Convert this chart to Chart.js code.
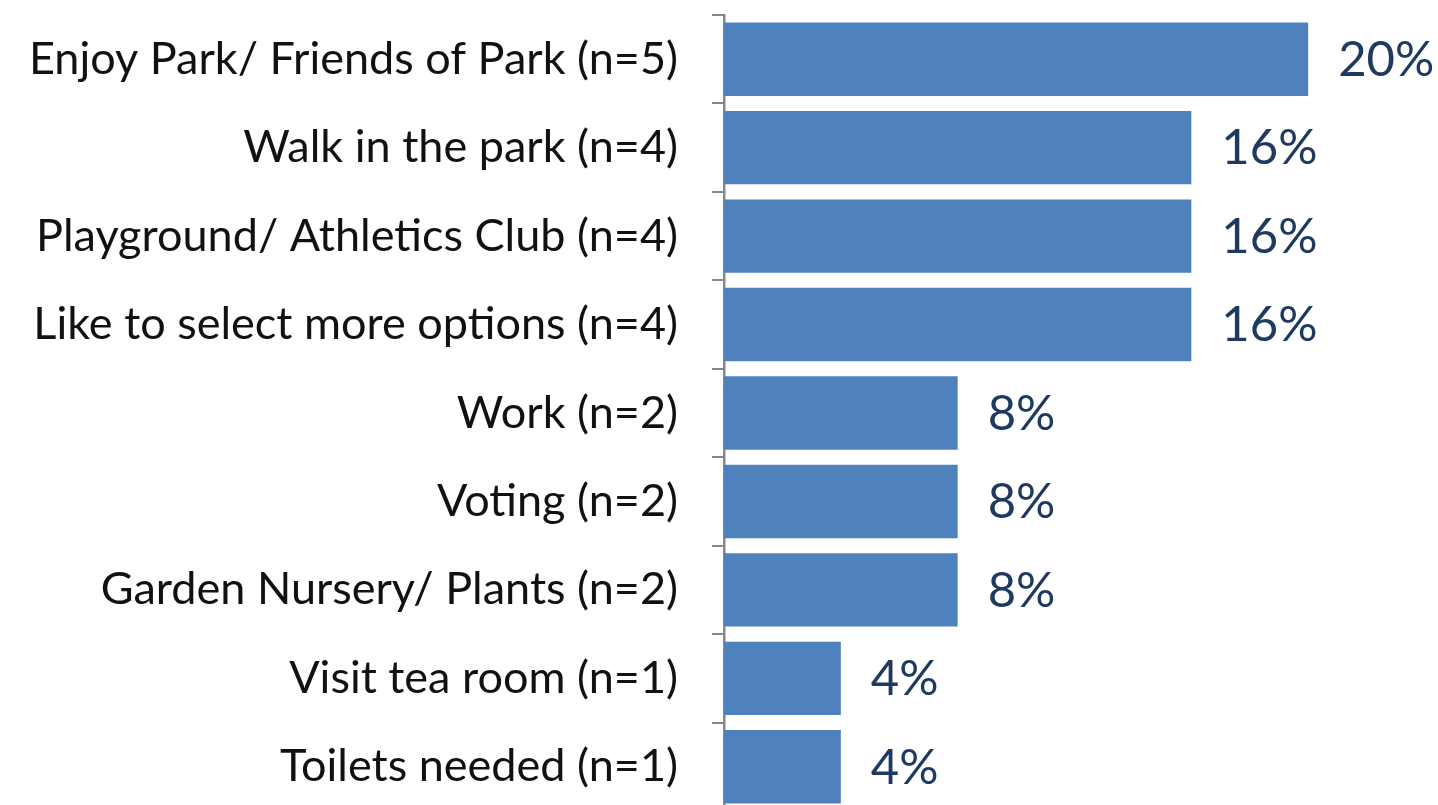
<!DOCTYPE html>
<html>
<head>
<meta charset="utf-8">
<script src="https://cdn.jsdelivr.net/npm/chart.js@4/dist/chart.umd.min.js"></script>
<style>
  html, body { margin: 0; padding: 0; background: #ffffff; overflow: hidden; }
  #wrap { position: relative; width: 1438px; height: 811px; }
</style>
</head>
<body>
<div id="wrap"><canvas id="chart"></canvas></div>
<script>
// Reasons for visiting the park, share of responses
const categories = [
  'Enjoy Park/ Friends of Park (n=5)',
  'Walk in the park (n=4)',
  'Playground/ Athletics Club (n=4)',
  'Like to select more options (n=4)',
  'Work (n=2)',
  'Voting (n=2)',
  'Garden Nursery/ Plants (n=2)',
  'Visit tea room (n=1)',
  'Toilets needed (n=1)'
];
const shares = [20, 16, 16, 16, 8, 8, 8, 4, 4];
const axisMax = 24;

const BAR_BLUE = '#4f81bd';
const AXIS_GREY = '#878787';
const FONT = 'Lato, "Open Sans", sans-serif';

// Percentage labels placed just past the end of every bar
const valueLabels = {
  id: 'valueLabels',
  afterDatasetsDraw(chart) {
    const ctx = chart.ctx;
    const meta = chart.getDatasetMeta(0);
    const data = chart.data.datasets[0].data;
    ctx.save();
    ctx.font = '49px ' + FONT;
    ctx.fillStyle = '#1f3a60';
    ctx.textAlign = 'left';
    ctx.textBaseline = 'middle';
    meta.data.forEach((bar, i) => {
      ctx.fillText(data[i] + '%', bar.x + 30, bar.y + 1);
    });
    ctx.restore();
  }
};

new Chart(document.getElementById('chart'), {
  type: 'bar',
  data: {
    labels: categories,
    datasets: [{
      data: shares,
      backgroundColor: BAR_BLUE,
      borderWidth: 0,
      barPercentage: 0.83,
      categoryPercentage: 1.0
    }]
  },
  options: {
    indexAxis: 'y',
    responsive: true,
    maintainAspectRatio: false,
    animation: false,
    layout: { padding: { top: 15, right: 13, bottom: 0, left: 0 } },
    plugins: {
      legend: { display: false },
      tooltip: { enabled: false }
    },
    scales: {
      x: {
        display: false,
        min: 0,
        max: axisMax
      },
      y: {
        offset: true,
        grid: {
          offset: true,
          drawOnChartArea: false,
          drawTicks: true,
          tickLength: 12,
          color: AXIS_GREY,
          lineWidth: 2
        },
        border: { display: true, color: AXIS_GREY, width: 2.5 },
        ticks: {
          padding: 34,
          color: '#111111',
          font: { family: FONT, size: 45 }
        },
        afterFit(scale) {
          scale.width = 724;
          scale.paddingTop = 0;
          scale.paddingBottom = 0;
        }
      }
    }
  },
  plugins: [valueLabels]
});
</script>
</body>
</html>
